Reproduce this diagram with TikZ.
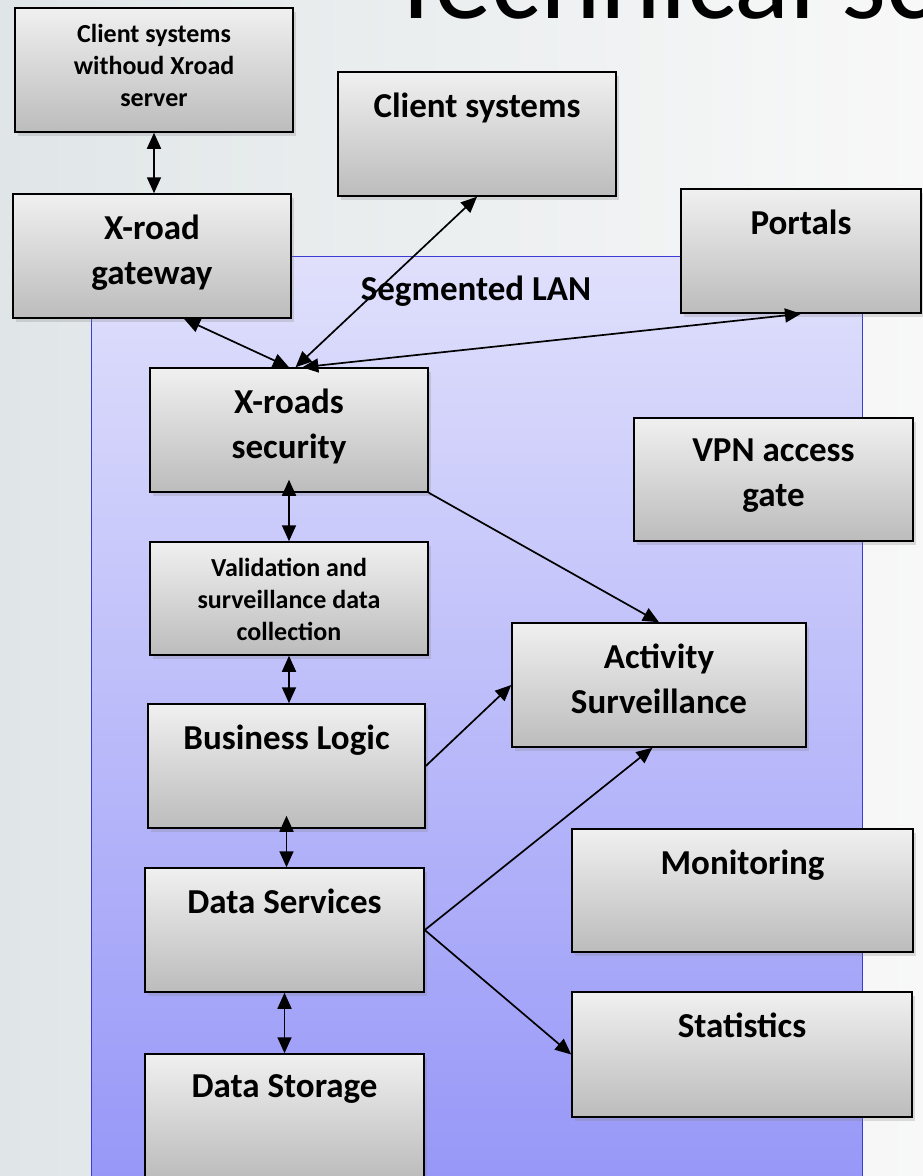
\documentclass[tikz,border=0pt]{standalone}
\usepackage{fontspec}
\setmainfont{Carlito}
\usetikzlibrary{arrows.meta,shadows}
\definecolor{bgleft}{RGB}{224,230,232}
\definecolor{bgright}{RGB}{248,248,248}
\definecolor{lantop}{RGB}{224,224,252}
\definecolor{lanbot}{RGB}{150,150,248}
\definecolor{lanedge}{RGB}{60,60,210}
\definecolor{boxtop}{RGB}{240,240,240}
\definecolor{boxbot}{RGB}{188,188,188}
\newcommand{\bigtxt}{\bfseries\fontsize{35}{45}\selectfont}
\newcommand{\smalltxt}{\bfseries\fontsize{26}{32}\selectfont}
\begin{document}
\begin{tikzpicture}[x=1pt,y=-1pt,
        blk/.style={draw=black,line width=1.5pt,top color=boxtop,bottom color=boxbot,inner sep=0pt,
            drop shadow={shadow xshift=3pt,shadow yshift=-4pt,opacity=0.25}},
        big/.style={anchor=north,yshift=-21pt,inner sep=0pt,align=center,font=\bigtxt},
        small/.style={anchor=north,yshift=-17pt,inner sep=0pt,align=center,font=\smalltxt},
        both/.style={{Triangle[length=16pt,width=14pt]}-{Triangle[length=16pt,width=14pt]},line width=1.7pt},
        one/.style={-{Triangle[length=16pt,width=14pt]},line width=1.7pt}]
        \useasboundingbox (0,0) rectangle (923,1176);
        \fill[left color=bgleft,right color=bgright] (0,0) rectangle (923,1176);
        \node[anchor=base west,inner sep=0pt,font=\fontsize{115}{120}\selectfont] (title) at (388,18) {Technical sc};
        \draw[lanedge,line width=0.8pt,top color=lantop,bottom color=lanbot] (91,256) rectangle (862,1190);
        \node[anchor=base,inner sep=0pt,font=\bigtxt] (lan) at (476,300) {Segmented LAN};
        \node[blk,minimum width=278pt,minimum height=124pt,label={[small]north:{Client systems\\withoud Xroad\\server}}] (cnx) at (154,70) {};
        \node[blk,minimum width=278pt,minimum height=124pt,label={[big]north:Client systems}] (cs) at (477,134) {};
        \node[blk,minimum width=278pt,minimum height=124pt,label={[big]north:{X-road\\gateway}}] (gw) at (152,256) {};
        \node[blk,minimum width=240pt,minimum height=124pt,label={[big]north:Portals}] (portals) at (801,251) {};
        \node[blk,minimum width=278pt,minimum height=124pt,label={[big]north:{X-roads\\security}}] (sec) at (289,430) {};
        \node[blk,minimum width=279pt,minimum height=123pt,label={[big]north:{VPN access\\gate}}] (vpn) at (773.5,479.5) {};
        \node[blk,minimum width=278pt,minimum height=113pt,label={[small]north:{Validation and\\surveillance data\\collection}}] (val) at (289,598.5) {};
        \node[blk,minimum width=294pt,minimum height=124pt,label={[big]north:{Activity\\Surveillance}}] (act) at (659,685) {};
        \node[blk,minimum width=277pt,minimum height=124pt,label={[big]north:Business Logic}] (bl) at (286.5,766) {};
        \node[blk,minimum width=279pt,minimum height=124pt,label={[big]north:Data Services}] (ds) at (284.5,930) {};
        \node[blk,minimum width=341pt,minimum height=123pt,label={[big]north:Monitoring}] (mon) at (742.5,890.5) {};
        \node[blk,minimum width=340pt,minimum height=125pt,label={[big]north:Statistics}] (stat) at (742,1054.5) {};
        \node[blk,minimum width=279pt,minimum height=124pt,label={[big]north:Data Storage}] (dst) at (284.5,1116) {};
        \draw[both] (cnx.south) -- (cnx.south |- gw.north);
        \draw[both] (gw.-63) -- (sec.north);
        \draw[both] (sec.84) -- (cs.south);
        \draw[both] (sec.78) -- (portals.south);
        \draw[both,shorten <=-13pt] (sec.south) -- (val.north);
        \draw[both] (val.south) -- (val.south |- bl.north);
        \draw[both,shorten <=-13pt] (bl.south) -- (bl.south |- ds.north);
        \draw[both] (ds.south) -- (ds.south |- dst.north);
        \draw[one] (sec.south east) -- (act.north);
        \draw[one] (bl.east) -- (act.west);
        \draw[one] (ds.east) -- (act.-96);
        \draw[one] (ds.east) -- (stat.west);
    \end{tikzpicture}
\end{document}
